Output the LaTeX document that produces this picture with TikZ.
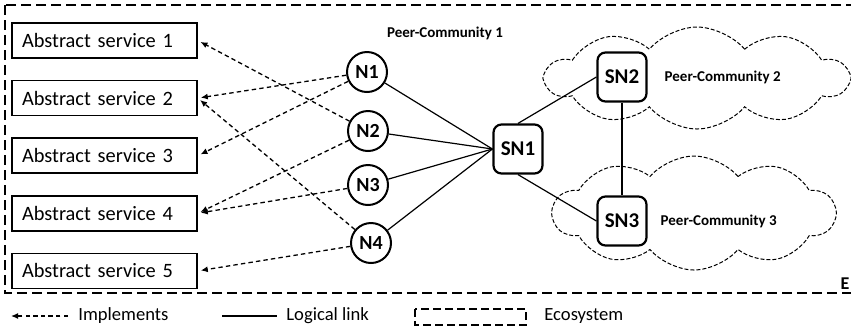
\documentclass[tikz,border=0pt]{standalone}
\usepackage{fontspec}
\setmainfont{Carlito}
\usetikzlibrary{positioning, shapes.symbols, arrows.meta}

\begin{document}
\begin{tikzpicture}[
        x=0.5pt, y=-0.5pt,
        service/.style={rectangle, draw, line width=0.8pt, minimum height=17.5pt, minimum width=92.5pt, inner xsep=5pt, text width=82.5pt, align=left, font=\fontsize{10.2}{12}\selectfont},
        peer/.style={circle, draw, line width=1pt, minimum size=20pt, inner sep=0pt, font=\fontsize{10}{12}\selectfont\bfseries},
        superpeer/.style={rectangle, draw, line width=1.1pt, rounded corners=4pt, minimum size=24.5pt, inner sep=0pt, fill=white, font=\fontsize{10.5}{12}\selectfont\bfseries},
        community/.style={cloud, draw, dash pattern=on 2pt off 1pt, line width=0.5pt, cloud puffs=10, cloud puff arc=100, cloud ignores aspect},
        label/.style={font=\fontsize{7.5}{9}\selectfont\bfseries},
        legend/.style={font=\fontsize{9.3}{11}\selectfont, anchor=west, inner sep=0pt},
        implements/.style={-{Latex[length=3.5pt,width=3pt]}, dash pattern=on 2.2pt off 1.6pt, line width=0.65pt, shorten >=1.5pt},
        link/.style={line width=0.6pt},
        node distance=10.5pt
    ]
    \useasboundingbox (0,0) rectangle (851,334);

    % Ecosystem border
    \draw[dash pattern=on 5pt off 2.5pt, line width=0.7pt] (5,5) rectangle (870,293);
    \node[font=\fontsize{9}{10}\selectfont\bfseries] (eco) at (845,284) {E};

    % Abstract services (left column)
    \node[service] (as1) at (104.5,40.5) {Abstract service 1};
    \node[service, below=of as1] (as2) {Abstract service 2};
    \node[service, below=of as2] (as3) {Abstract service 3};
    \node[service, below=of as3] (as4) {Abstract service 4};
    \node[service, below=of as4] (as5) {Abstract service 5};

    % Peer-Community 2 and 3 clouds
    \node[community, minimum width=151pt, minimum height=51pt] (pc2) at (697,78) {};
    \node[community, minimum width=141pt, minimum height=57pt] (pc3) at (694,213) {};

    % Peers of Peer-Community 1
    \node[label] (pc1) at (445,33) {Peer-Community 1};
    \node[peer] (n1) at (367,72) {N1};
    \node[peer] (n2) at (368,131) {N2};
    \node[peer] (n3) at (368,185) {N3};
    \node[peer] (n4) at (371,243) {N4};

    % Super peers
    \node[superpeer] (sn1) at (518,149) {SN1};
    \node[superpeer] (sn2) at (622,77) {SN2};
    \node[superpeer] (sn3) at (622,221) {SN3};
    \node[label, right=5pt of sn2] (pc2lbl) {Peer-Community 2};
    \node[label, right=3pt of sn3] (pc3lbl) {Peer-Community 3};

    % Implements arrows
    \draw[implements] (n1) -- (as2.east);
    \draw[implements] (n1) -- (as3.east);
    \draw[implements] (n2) -- (as1.east);
    \draw[implements] (n2) -- (as4.east);
    \draw[implements] (n3) -- (as4.east);
    \draw[implements] (n4) -- (as2.east);
    \draw[implements] (n4) -- (as5.east);

    % Logical links
    \foreach \p in {n1, n2, n3, n4}
        \draw[link] (\p) -- (sn1.west);
    \draw[link] (sn1.north) -- (sn2.west);
    \draw[link] (sn1.south) -- (sn3.west);
    \draw[link] (sn2.south) -- (sn3.north);

    % Legend
    \coordinate (impA) at (68,316);
    \coordinate (impB) at (11,316);
    \draw[implements, shorten >=0pt] (impA) -- (impB);
    \node[legend] (impT) at (78,316) {Implements};
    \coordinate (linkA) at (222,316);
    \coordinate (linkB) at (277,316);
    \draw[link] (linkA) -- (linkB);
    \node[legend] (linkT) at (286,316) {Logical link};
    \coordinate (ecoA) at (415,309);
    \coordinate (ecoB) at (526,325);
    \draw[dash pattern=on 4pt off 2pt, line width=0.6pt] (ecoA) rectangle (ecoB);
    \node[legend] (ecoT) at (544,316) {Ecosystem};
\end{tikzpicture}
\end{document}
